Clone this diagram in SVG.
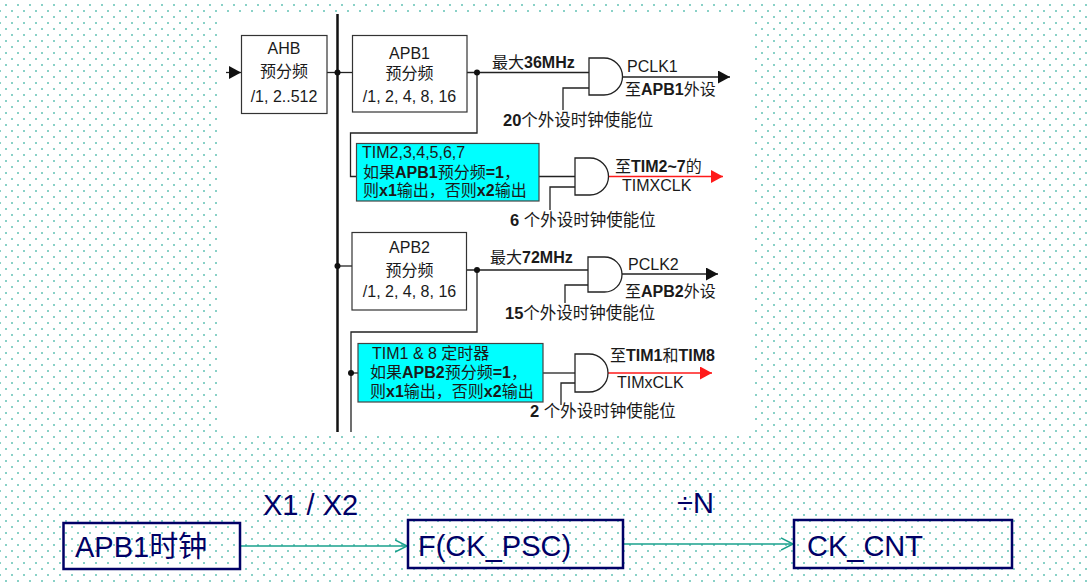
<svg xmlns="http://www.w3.org/2000/svg" width="1091" height="582" viewBox="0 0 1091 582">
<style>
.bx{fill:#fff;stroke:#333;stroke-width:1.2}
.tim{fill:#00ffff;stroke:#444;stroke-width:1.2}
.ln{fill:none;stroke:#222;stroke-width:1.3}
.bus{fill:none;stroke:#111;stroke-width:2.5}
.red{fill:none;stroke:#ff1a1a;stroke-width:1.5}
.gate{fill:#fff;stroke:#222;stroke-width:1.3}
.dot{fill:#111}
.t{font-family:"Liberation Sans","Noto Sans CJK SC",sans-serif;font-size:16px;fill:#1a1a1a}
.s{font-size:16.5px}
.m{text-anchor:middle}
.b{font-weight:bold}
.nb{fill:none;stroke:#000066;stroke-width:2.5}
.nt{font-family:"Liberation Sans","Noto Sans CJK SC",sans-serif;font-size:29px;fill:#000066}
.tl{fill:none;stroke:#1aa08c;stroke-width:1.5}
</style>
<defs>
<pattern id="dots" x="3" y="2" width="12" height="12" patternUnits="userSpaceOnUse">
<rect x="2.25" y="2.25" width="1.5" height="1.5" fill="#2fae9c"/>
<rect x="8.25" y="8.25" width="1.5" height="1.5" fill="#2fae9c"/>
</pattern>
<marker id="ab" markerUnits="userSpaceOnUse" markerWidth="13" markerHeight="13" refX="12" refY="6.5" orient="auto"><path d="M0,0 L12,6.5 L0,13 Z" fill="#111"/></marker>
<marker id="ar" markerUnits="userSpaceOnUse" markerWidth="13" markerHeight="13" refX="12" refY="6.5" orient="auto"><path d="M0,0 L12,6.5 L0,13 Z" fill="#ff1a1a"/></marker>
<marker id="at" markerUnits="userSpaceOnUse" markerWidth="14" markerHeight="14" refX="12.5" refY="7" orient="auto"><path d="M0.5,1 L12.5,7 L0.5,13" fill="none" stroke="#1aa08c" stroke-width="1.5"/></marker>
</defs>
<rect x="0" y="0" width="1091" height="582" fill="#fff"/>
<rect x="0" y="0" width="1091" height="582" fill="url(#dots)"/>
<rect x="219" y="14" width="534" height="418" fill="#fff"/>

<g id="connectors">
<line class="bus" x1="337.5" y1="14" x2="337.5" y2="432"/>
<line class="ln" x1="226" y1="72.5" x2="241" y2="72.5" marker-end="url(#ab)"/>
<line class="ln" x1="327" y1="72.5" x2="352" y2="72.5"/>
<line class="ln" x1="467" y1="72.5" x2="589" y2="72.5"/>
<polyline class="ln" points="563,110 563,88 589,88"/>
<line class="ln" x1="622" y1="77" x2="730" y2="77" marker-end="url(#ab)"/>
<polyline class="ln" points="477,72.5 477,133 350.5,133 350.5,176.5 357,176.5"/>
<line class="ln" x1="539" y1="176.5" x2="575" y2="176.5"/>
<polyline class="ln" points="550,210 550,187 575,187"/>
<line class="red" x1="608" y1="176.5" x2="723" y2="176.5" marker-end="url(#ar)"/>
<line class="ln" x1="337.5" y1="266" x2="352" y2="266"/>
<line class="ln" x1="467" y1="270" x2="588" y2="270"/>
<polyline class="ln" points="565,303 565,285 588,285"/>
<line class="ln" x1="622" y1="274" x2="718" y2="274" marker-end="url(#ab)"/>
<polyline class="ln" points="477,270 477,332 351,332 351,432"/>
<line class="ln" x1="351" y1="373" x2="358" y2="373"/>
<line class="ln" x1="543" y1="373" x2="575" y2="373"/>
<polyline class="ln" points="561,405 561,383 575,383"/>
<line class="red" x1="608" y1="373" x2="712" y2="373" marker-end="url(#ar)"/>
<circle class="dot" cx="337.5" cy="72.5" r="3"/>
<circle class="dot" cx="477" cy="72.5" r="3"/>
<circle class="dot" cx="337.5" cy="266" r="3"/>
<circle class="dot" cx="477" cy="270" r="3"/>
<circle class="dot" cx="351" cy="373" r="3"/>
<line class="tl" x1="240" y1="546" x2="407" y2="546" marker-end="url(#at)"/>
<line class="tl" x1="623" y1="544" x2="793" y2="544" marker-end="url(#at)"/>
</g>

<g id="ahb">
<rect class="bx" x="241.5" y="35.5" width="85.5" height="78"/>
<text class="t m" x="284" y="54">AHB</text>
<text class="t m" x="284" y="77">预分频</text>
<text class="t m" x="284" y="102">/1, 2..512</text>
</g>

<g id="apb1">
<rect class="bx" x="352.5" y="35.5" width="114.5" height="76.5"/>
<text class="t m" x="409.5" y="59">APB1</text>
<text class="t m" x="409.5" y="79">预分频</text>
<text class="t m" x="409.5" y="101.5">/1, 2, 4, 8, 16</text>
</g>

<g id="gate-pclk1">
<path class="gate" d="M589,58 H604 A18.5,18.5 0 0 1 604,95 H589 Z"/>
<text class="t" x="492" y="68">最大<tspan class="b">36MHz</tspan></text>
<text class="t" x="627" y="72">PCLK1</text>
<text class="t" x="625" y="95">至<tspan class="b">APB1</tspan>外设</text>
<text class="t s" x="503" y="126"><tspan class="b">20</tspan>个外设时钟使能位</text>
</g>

<g id="tim2-7">
<rect class="tim" x="356.5" y="143.5" width="182.5" height="57.5"/>
<text class="t" x="362" y="158">TIM2,3,4,5,6,7</text>
<text class="t" x="363" y="178">如果<tspan class="b">APB1</tspan>预分频<tspan class="b">=1</tspan>，</text>
<text class="t" x="363" y="196">则<tspan class="b">x1</tspan>输出，否则<tspan class="b">x2</tspan>输出</text>
</g>

<g id="gate-tim2-7">
<path class="gate" d="M575,158 H590 A18.5,18.5 0 0 1 590,195 H575 Z"/>
<text class="t" x="615" y="172">至<tspan class="b">TIM2~7</tspan>的</text>
<text class="t" x="622" y="191">TIMXCLK</text>
<text class="t s" x="510" y="226"><tspan class="b">6 </tspan>个外设时钟使能位</text>
</g>

<g id="apb2">
<rect class="bx" x="352" y="232.5" width="114.5" height="77.5"/>
<text class="t m" x="409.5" y="253">APB2</text>
<text class="t m" x="409.5" y="276">预分频</text>
<text class="t m" x="409.5" y="297">/1, 2, 4, 8, 16</text>
</g>

<g id="gate-pclk2">
<path class="gate" d="M588,257 H604.5 A17.5,17.5 0 0 1 604.5,292 H588 Z"/>
<text class="t" x="490" y="263">最大<tspan class="b">72MHz</tspan></text>
<text class="t" x="628" y="270">PCLK2</text>
<text class="t" x="625" y="297">至<tspan class="b">APB2</tspan>外设</text>
<text class="t s" x="505" y="319"><tspan class="b">15</tspan>个外设时钟使能位</text>
</g>

<g id="tim1-8">
<rect class="tim" x="358" y="343.5" width="185" height="58.5"/>
<text class="t" x="372" y="359">TIM1 &amp; 8 定时器</text>
<text class="t" x="370" y="378">如果<tspan class="b">APB2</tspan>预分频<tspan class="b">=1</tspan>，</text>
<text class="t" x="370" y="397">则<tspan class="b">x1</tspan>输出，否则<tspan class="b">x2</tspan>输出</text>
</g>

<g id="gate-tim1-8">
<path class="gate" d="M575,354 H589 A19,19 0 0 1 589,392 H575 Z"/>
<text class="t" x="610" y="361">至<tspan class="b">TIM1</tspan>和<tspan class="b">TIM8</tspan></text>
<text class="t" x="617" y="388">TIMxCLK</text>
<text class="t s" x="530" y="417"><tspan class="b">2 </tspan>个外设时钟使能位</text>
</g>

<g id="apb1-clock">
<rect class="nb" x="63.5" y="523" width="176.5" height="46"/>
<text class="nt" x="75" y="557">APB1时钟</text>
</g>
<g id="label-x1x2">
<text class="nt" x="263" y="515">X1 / X2</text>
</g>
<g id="ck-psc">
<rect class="nb" x="408" y="520" width="215" height="48"/>
<text class="nt" x="418" y="556">F(CK_PSC)</text>
</g>
<g id="label-divn">
<text class="nt" x="677" y="513">÷N</text>
</g>
<g id="ck-cnt">
<rect class="nb" x="794" y="520" width="218" height="48"/>
<text class="nt" x="807" y="556">CK_CNT</text>
</g>
</svg>
